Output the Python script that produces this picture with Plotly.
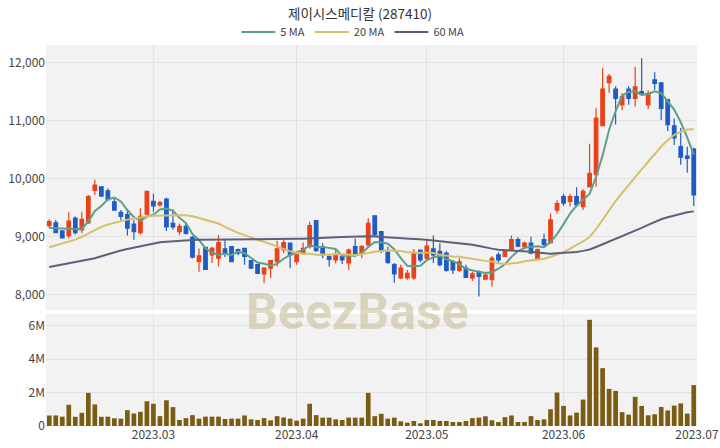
import pandas as pd
import plotly.graph_objects as go

# ---- data -------------------------------------------------------------
holidays = ["2023-03-01", "2023-05-01", "2023-05-05", "2023-06-06"]
dates = [d.strftime("%Y-%m-%d") for d in pd.bdate_range("2023-02-07", "2023-06-30")
         if d.strftime("%Y-%m-%d") not in holidays]

open_ = [9190, 9240, 9100, 9020, 9320, 9120, 9240, 9800, 9860, 9790,
         9600, 9420, 9380, 9220, 9070, 9390, 9610, 9550, 9650, 9230,
         9090, 9180, 8990, 8570, 8820, 8690, 8630, 8790, 8830, 8780,
         8800, 8590, 8520, 8360, 8460, 8570, 8780, 8890, 8570, 8720,
         8830, 9280, 8830, 8660, 8600, 8660, 8550, 8830, 8720, 8860,
         9360, 9090, 8730, 8520, 8290, 8290, 8290, 8770, 8630, 8790,
         8750, 8720, 8570, 8420, 8460, 8290, 8400, 8270, 8260, 8690,
         8660, 8780, 8950, 8830, 8890, 8620, 8950, 8900, 9460, 9690,
         9610, 9690, 9520, 9860, 10070, 10910, 11650, 11540, 11270, 11540,
         11380, 11500, 11270, 11700, 11650, 11360, 10910, 10550, 10390, 10510]
high = [9300, 9290, 9110, 9420, 9350, 9430, 9720, 9980, 9870, 9830,
        9660, 9460, 9460, 9290, 9490, 9780, 9740, 9620, 9670, 9470,
        9230, 9240, 9010, 8800, 8830, 8830, 9030, 8950, 8840, 8800,
        8810, 8600, 8540, 8480, 8600, 8930, 8950, 8900, 8740, 8900,
        9260, 9290, 8890, 8690, 8780, 8690, 8800, 8970, 8860, 9320,
        9360, 9090, 8830, 8550, 8520, 8430, 8790, 8780, 8930, 9020,
        8890, 8750, 8600, 8630, 8520, 8400, 8420, 8400, 8670, 8730,
        8780, 9020, 8990, 8920, 9000, 8800, 9050, 9400, 9630, 9740,
        9740, 9850, 9820, 10600, 11210, 11900, 11800, 11590, 11470, 11590,
        11920, 12070, 11520, 11830, 11650, 11360, 11040, 10870, 10550, 10530]
low = [9150, 9060, 8970, 8970, 9040, 9060, 9220, 9720, 9700, 9620,
       9450, 9290, 9020, 8950, 9040, 9360, 9430, 9520, 9100, 9120,
       9030, 9040, 8630, 8400, 8430, 8550, 8490, 8650, 8560, 8680,
       8520, 8450, 8360, 8200, 8290, 8490, 8720, 8460, 8520, 8690,
       8800, 8740, 8630, 8490, 8540, 8530, 8430, 8660, 8630, 8830,
       9000, 8720, 8530, 8210, 8270, 8260, 8260, 8560, 8600, 8550,
       8490, 8400, 8360, 8400, 8290, 8240, 7970, 8260, 8140, 8550,
       8650, 8760, 8820, 8800, 8700, 8590, 8830, 8880, 9400, 9530,
       9520, 9520, 9460, 9850, 9860, 10900, 11480, 10930, 11180, 11270,
       11240, 11440, 11200, 11530, 11010, 10820, 10580, 10240, 10100, 9530]
close = [9260, 9070, 8980, 9270, 9070, 9300, 9690, 9890, 9700, 9640,
         9460, 9350, 9150, 9090, 9350, 9780, 9530, 9590, 9170, 9170,
         9180, 9060, 8650, 8670, 8440, 8800, 8900, 8730, 8570, 8720,
         8660, 8460, 8370, 8460, 8590, 8790, 8900, 8690, 8690, 8800,
         9190, 8760, 8690, 8610, 8700, 8600, 8770, 8690, 8830, 9230,
         9030, 8750, 8560, 8360, 8460, 8370, 8720, 8600, 8840, 8690,
         8520, 8420, 8430, 8570, 8300, 8360, 8320, 8340, 8630, 8600,
         8750, 8950, 8840, 8890, 8720, 8780, 8870, 9290, 9570, 9580,
         9690, 9550, 9780, 10090, 11040, 11540, 11760, 11380, 11410, 11380,
         11580, 11450, 11470, 11640, 11210, 10930, 10700, 10370, 10350, 9720]
volume_m = [0.63, 0.63, 0.56, 1.27, 0.55, 0.79, 1.98, 1.29, 0.55, 0.56,
            0.46, 0.44, 0.95, 0.75, 0.85, 1.48, 1.33, 0.59, 1.54, 1.13,
            0.36, 0.47, 0.65, 0.44, 0.56, 0.56, 0.56, 0.42, 0.44, 0.44,
            0.63, 0.40, 0.36, 0.47, 0.34, 0.59, 0.51, 0.44, 0.32, 0.44,
            1.33, 0.65, 0.50, 0.50, 0.40, 0.36, 0.50, 0.50, 0.50, 1.98,
            0.59, 0.73, 0.44, 0.50, 0.28, 0.20, 0.30, 0.16, 0.36, 0.36,
            0.30, 0.30, 0.24, 0.24, 0.30, 0.47, 0.50, 0.58, 0.34, 0.24,
            0.53, 0.63, 0.24, 0.24, 0.59, 0.36, 0.40, 1.00, 2.00, 1.20,
            0.63, 0.80, 1.58, 6.35, 4.70, 3.46, 2.22, 2.10, 0.83, 0.68,
            1.75, 1.20, 0.64, 0.70, 1.14, 0.93, 1.22, 1.35, 0.74, 2.45]

# moving-average values before enough visible closes exist
ma5_head = [9150, 9150, 9140, 9140]
ma20_head = [8820, 8850, 8880, 8910, 8950, 9000, 9060, 9120, 9170, 9210,
             9240, 9270, 9295, 9315, 9335, 9350, 9360, 9365, 9370]
ma60_head = [8480, 8500, 8520, 8540, 8560, 8580, 8600, 8630, 8665, 8700,
             8735, 8765, 8790, 8815, 8840, 8865, 8890, 8905, 8915, 8925,
             8935, 8940, 8945, 8948, 8950, 8950, 8950, 8950, 8952, 8954,
             8955, 8955, 8956, 8957, 8958, 8960, 8962, 8964, 8966, 8968,
             8970, 8975, 8980, 8985, 8990, 8995, 9000, 9005, 9010, 9010,
             9005, 9000, 8992, 8985, 8978, 8970, 8963, 8956, 8950]

month_ticks = ["2023.03", "2023.04", "2023.05", "2023.06", "2023.07"]
month_first = ["2023-03-02", "2023-04-03", "2023-05-02", "2023-06-01"]

# ---- derived ----------------------------------------------------------
cs = pd.Series(close, dtype=float)
def ma(n, head):
    r = cs.rolling(n).mean().tolist()
    return head + r[len(head):]
ma5 = ma(5, ma5_head)
ma20 = ma(20, ma20_head)
ma60 = ma(60, ma60_head)
volume = [v * 1e6 for v in volume_m]

tickvals = [dates.index(d) for d in month_first] + [len(dates) - 0.5]

RED = "#e8421a"
BLUE = "#1f5cc5"
GRID = "#e2e2e2"
BG = "#f2f2f2"

fig = go.Figure()
fig.add_trace(go.Candlestick(
    x=dates, open=open_, high=high, low=low, close=close,
    increasing=dict(line=dict(color=RED, width=1.2), fillcolor=RED),
    decreasing=dict(line=dict(color=BLUE, width=1.2), fillcolor=BLUE),
    whiskerwidth=0, showlegend=False, xaxis="x", yaxis="y"))
for name, vals, col in [("5 MA", ma5, "#5f9f8a"), ("20 MA", ma20, "#d6c06a"),
                        ("60 MA", ma60, "#5c6079")]:
    fig.add_trace(go.Scatter(x=dates, y=vals, mode="lines", name=name,
                             line=dict(color=col, width=2), xaxis="x", yaxis="y"))
fig.add_trace(go.Bar(x=dates, y=volume, marker=dict(color="#7a5c12", line=dict(width=0)),
                     width=0.72, showlegend=False, xaxis="x2", yaxis="y2"))

axis_common = dict(type="category", range=[-0.5, len(dates) - 0.5],
                   tickmode="array", tickvals=tickvals, ticktext=month_ticks,
                   showgrid=True, gridcolor=GRID, gridwidth=1, zeroline=False,
                   showline=False, ticks="", automargin=False,
                   tickfont=dict(size=12, color="#444"))
fig.update_layout(
    width=720, height=448,
    margin=dict(l=46, r=23, t=45, b=22, autoexpand=False),
    paper_bgcolor="white", plot_bgcolor=BG,
    font=dict(family="Noto Sans CJK KR, Noto Sans, sans-serif", color="#444"),
    title=dict(text="제이시스메디칼 (287410)", x=0.5, xanchor="center",
               y=0.968, yanchor="middle", font=dict(size=13.5, color="#333")),
    legend=dict(orientation="h", xref="container", x=0.49, xanchor="center",
                y=1.034, yanchor="middle",
                font=dict(size=11, color="#444"), bgcolor="rgba(0,0,0,0)",
                itemwidth=34, tracegroupgap=0),
    xaxis=dict(axis_common, domain=[0, 1], anchor="y", showticklabels=False,
               rangeslider=dict(visible=False)),
    xaxis2=dict(axis_common, domain=[0, 1], anchor="y2", matches="x"),
    yaxis=dict(domain=[0.3045, 1], range=[7740, 12300], tickvals=[8000, 9000, 10000, 11000, 12000],
               tickformat=",", gridcolor=GRID, zeroline=False, ticks="", automargin=False,
               tickfont=dict(size=12, color="#444")),
    yaxis2=dict(domain=[0, 0.294], range=[0, 6.7e6], tickvals=[0, 2e6, 4e6, 6e6],
                ticktext=["0", "2M", "4M", "6M"], gridcolor=GRID, zeroline=False, ticks="",
                automargin=False, tickfont=dict(size=12, color="#444")),
    boxgap=0.22,
    showlegend=True,
)
fig.add_annotation(text="<b>BeezBase</b>", xref="paper", yref="paper", x=0.479, y=0.299,
                   xanchor="center", yanchor="middle", showarrow=False,
                   font=dict(size=50, family="Roboto, sans-serif", color="rgba(196,186,146,0.55)"))

fig.write_html("out.html", config=dict(displayModeBar=False),
               post_script="document.body.style.margin='0';document.body.style.padding='0';")
